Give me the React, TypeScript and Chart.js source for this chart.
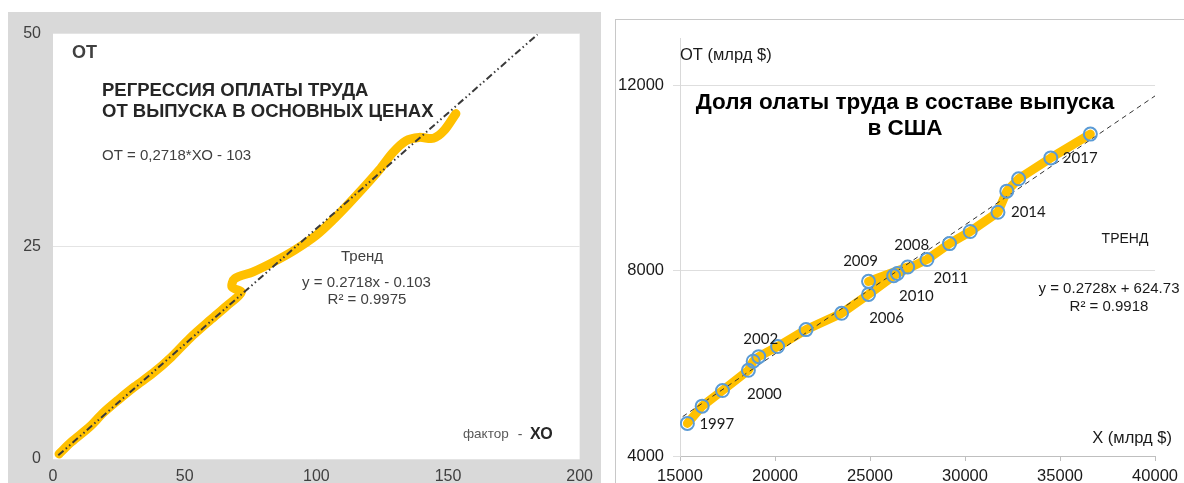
import React, { useEffect, useRef } from "react";
import { Chart, registerables } from "chart.js";

Chart.register(...registerables);

// ---------- Left chart data (ОТ vs ХО) ----------
const xoValues = [2.3, 7, 14, 19, 25, 31, 38, 45, 52, 60, 66, 71.5, 68, 69, 76, 84, 92, 100, 106, 112, 118, 124, 129, 134, 139, 144.5, 148.5, 153];
const otValues = [0.6, 2.0, 3.8, 5.4, 7.0, 8.5, 10.1, 12.0, 14.2, 16.4, 18.0, 19.6, 20.2, 21.2, 22.0, 23.2, 24.6, 26.3, 28.0, 29.9, 31.9, 34.0, 36.0, 37.4, 37.8, 37.7, 38.6, 40.6];
const leftTrendX = [2, 184];
const leftTrendY = [0.44, 49.9];
const leftXTicks = [0, 50, 100, 150, 200];
const leftYTicks = [0, 25, 50];

// ---------- Right chart data (USA) ----------
const years = [1997, 1998, 1999, 2000, 2001, 2002, 2003, 2004, 2005, 2006, 2007, 2008, 2009, 2010, 2011, 2012, 2013, 2014, 2015, 2016, 2017, 2018];
const outputX = [15389, 16167, 17237, 18599, 18852, 19144, 20136, 21634, 23502, 24922, 26245, 26984, 24922, 26440, 27996, 29183, 30272, 31732, 32198, 32821, 34514, 36595];
const laborY = [4703, 5076, 5413, 5849, 6046, 6144, 6362, 6728, 7079, 7487, 7888, 8077, 7768, 7937, 8239, 8583, 8844, 9258, 9715, 9982, 10432, 10946];
const rightTrendX = [15140, 40000];
const rightTrendY = [4850, 11770];
const labelledYears = [1997, 2000, 2002, 2006, 2008, 2009, 2010, 2011, 2014, 2017];
const rightXTicks = [15000, 20000, 25000, 30000, 35000, 40000];
const rightYTicks = [4000, 8000, 12000];

// label placement (offset from the point, px)
const yearLabelPlacement: Record<number, [number, number, CanvasTextAlign]> = {
  1997: [12, 1, "left"],
  2000: [16, 24, "center"],
  2002: [2, -17, "center"],
  2006: [18, 24, "center"],
  2008: [4, -22, "center"],
  2009: [-8, -20, "center"],
  2010: [19, 23, "center"],
  2011: [24, 19, "center"],
  2014: [13, 0, "left"],
  2017: [12, 0, "left"],
};

const ARIAL = "'Liberation Sans', Arial, sans-serif";

const whitePlot = {
  id: "whitePlot",
  beforeDraw(chart: any) {
    const { ctx, chartArea } = chart;
    ctx.save();
    ctx.fillStyle = "#ffffff";
    ctx.fillRect(chartArea.left, chartArea.top, chartArea.right - chartArea.left, chartArea.bottom - chartArea.top);
    ctx.restore();
  },
};

const yearLabels = {
  id: "yearLabels",
  afterDatasetsDraw(chart: any) {
    const meta = chart.getDatasetMeta(0);
    const ctx = chart.ctx;
    ctx.save();
    ctx.font = "15px Lato, 'Open Sans', sans-serif";
    ctx.fillStyle = "#1a1a1a";
    ctx.textBaseline = "middle";
    years.forEach((yr, i) => {
      if (!labelledYears.includes(yr)) return;
      const el = meta.data[i];
      const [dx, dy, align] = yearLabelPlacement[yr];
      ctx.textAlign = align;
      ctx.fillText(String(yr), el.x + dx, el.y + dy);
    });
    ctx.restore();
  },
};

type LabelProps = {
  x: number;
  y: number;
  text: React.ReactNode;
  align?: "left" | "center" | "right";
  size: number;
  bold?: boolean;
  color?: string;
  family?: string;
};

function Label({ x, y, text, align = "left", size, bold, color = "#262626", family = ARIAL }: LabelProps) {
  const tx = align === "left" ? "0" : align === "center" ? "-50%" : "-100%";
  return (
    <div
      style={{
        position: "absolute",
        left: x,
        top: y,
        transform: `translate(${tx}, -50%)`,
        whiteSpace: "nowrap",
        lineHeight: 1,
        fontSize: size,
        fontWeight: bold ? 700 : 400,
        color,
        fontFamily: family,
        textAlign: align,
      }}
    >
      {text}
    </div>
  );
}

function LeftChart() {
  const ref = useRef<HTMLCanvasElement>(null);
  useEffect(() => {
    const chart = new Chart(ref.current as HTMLCanvasElement, {
      type: "scatter",
      data: {
        datasets: [
          {
            label: "Тренд",
            data: leftTrendX.map((x, i) => ({ x, y: leftTrendY[i] })),
            showLine: true,
            borderColor: "#3a3a3a",
            borderWidth: 2,
            borderDash: [7, 3, 1.5, 3, 1.5, 3],
            pointRadius: 0,
            fill: false,
          },
          {
            label: "ОТ",
            data: xoValues.map((x, i) => ({ x, y: otValues[i] })),
            showLine: true,
            borderColor: "#FFC000",
            borderWidth: 9,
            tension: 0.3,
            pointRadius: 0,
            borderCapStyle: "round",
            borderJoinStyle: "round",
            fill: false,
          },
        ],
      },
      options: {
        animation: false,
        responsive: true,
        maintainAspectRatio: false,
        layout: { padding: { left: 0, top: 18, right: 18, bottom: 0 } },
        plugins: { legend: { display: false }, tooltip: { enabled: false } },
        scales: {
          x: {
            type: "linear",
            min: 0,
            max: 200,
            afterBuildTicks: (s: any) => {
              s.ticks = leftXTicks.map((v) => ({ value: v }));
            },
            ticks: { color: "#404040", font: { family: ARIAL, size: 16 }, padding: 8, maxRotation: 0, callback: (v: any) => `${v}` },
            grid: { display: false, drawTicks: false },
            border: { display: false },
            afterFit: (s: any) => {
              s.height = 24;
            },
          },
          y: {
            type: "linear",
            min: 0,
            max: 50,
            afterBuildTicks: (s: any) => {
              s.ticks = leftYTicks.map((v) => ({ value: v }));
            },
            ticks: { color: "#404040", font: { family: ARIAL, size: 16 }, padding: 12, callback: (v: any) => `${v}` },
            grid: { color: "#e4e4e4", drawTicks: false },
            border: { display: false },
            afterFit: (s: any) => {
              s.width = 45;
            },
          },
        },
      } as any,
      plugins: [whitePlot],
    });
    return () => chart.destroy();
  }, []);
  return (
    <div style={{ position: "absolute", left: 8, top: 12, width: 593, height: 471, background: "#d9d9d9" }}>
      <canvas ref={ref} />
    </div>
  );
}

function RightChart() {
  const ref = useRef<HTMLCanvasElement>(null);
  useEffect(() => {
    const chart = new Chart(ref.current as HTMLCanvasElement, {
      type: "scatter",
      data: {
        datasets: [
          {
            label: "точки",
            data: outputX.map((x, i) => ({ x, y: laborY[i] })),
            showLine: false,
            pointRadius: 6.5,
            pointBorderWidth: 2,
            pointBorderColor: "#5B9BD5",
            pointBackgroundColor: "rgba(0,0,0,0)",
          },
          {
            label: "ТРЕНД",
            data: rightTrendX.map((x, i) => ({ x, y: rightTrendY[i] })),
            showLine: true,
            borderColor: "#333333",
            borderWidth: 1,
            borderDash: [5, 4],
            pointRadius: 0,
            fill: false,
          },
          {
            label: "ОТ",
            data: outputX.map((x, i) => ({ x, y: laborY[i] })),
            showLine: true,
            borderColor: "#FFC000",
            borderWidth: 9,
            tension: 0,
            pointRadius: 0,
            borderCapStyle: "round",
            borderJoinStyle: "round",
            fill: false,
          },
        ],
      },
      options: {
        animation: false,
        responsive: true,
        maintainAspectRatio: false,
        layout: { padding: { left: 0, top: 8.5, right: 25, bottom: 0 } },
        plugins: { legend: { display: false }, tooltip: { enabled: false } },
        scales: {
          x: {
            type: "linear",
            min: 15000,
            max: 40000,
            afterBuildTicks: (s: any) => {
              s.ticks = rightXTicks.map((v) => ({ value: v }));
            },
            ticks: { color: "#1a1a1a", font: { family: ARIAL, size: 16.5 }, padding: 6, maxRotation: 0, callback: (v: any) => `${v}` },
            grid: { drawOnChartArea: false, drawTicks: true, tickLength: 5, color: "#bfbfbf" },
            border: { color: "#bfbfbf" },
            afterFit: (s: any) => {
              s.height = 27;
            },
          },
          y: {
            type: "linear",
            min: 4000,
            max: 13000,
            afterBuildTicks: (s: any) => {
              s.ticks = rightYTicks.map((v) => ({ value: v }));
            },
            ticks: { color: "#1a1a1a", font: { family: ARIAL, size: 16.5 }, padding: 9, callback: (v: any) => `${v}` },
            grid: { color: "#dedede", tickLength: 7 },
            border: { color: "#d9d9d9" },
            afterFit: (s: any) => {
              s.width = 64;
            },
          },
        },
      } as any,
      plugins: [yearLabels],
    });
    return () => chart.destroy();
  }, []);
  return (
    <div
      style={{
        position: "absolute",
        left: 615,
        top: 19,
        width: 569,
        height: 464,
        boxSizing: "border-box",
        borderTop: "1px solid #c8c8c8",
        borderLeft: "1px solid #c8c8c8",
        background: "#fff",
      }}
    >
      <div style={{ position: "absolute", left: 0, top: 0, width: 568, height: 463 }}>
        <canvas ref={ref} />
      </div>
    </div>
  );
}

export default function App() {
  useEffect(() => {
    document.body.style.margin = "0";
  }, []);
  return (
    <div style={{ position: "fixed", left: 0, top: 0, width: 1184, height: 483, background: "#fff", overflow: "hidden" }}>
      <LeftChart />
      <RightChart />

      {/* left chart texts */}
      <Label x={72} y={52} text="ОТ" size={18} bold color="#404040" />
      <Label x={102} y={90} text="РЕГРЕССИЯ ОПЛАТЫ ТРУДА" size={18.5} bold color="#262626" />
      <Label x={102} y={111} text="ОТ ВЫПУСКА В ОСНОВНЫХ ЦЕНАХ" size={18.5} bold color="#262626" />
      <Label x={102} y={154} text="ОТ = 0,2718*ХО - 103" size={15} color="#404040" />
      <Label x={362} y={255} text="Тренд" size={15} align="center" color="#404040" />
      <Label x={366.5} y={281} text="y = 0.2718x - 0.103" size={15} align="center" color="#404040" />
      <Label x={367} y={298} text="R² = 0.9975" size={15} align="center" color="#404040" />
      <Label x={463} y={434} text="фактор" size={13.5} color="#595959" />
      <Label x={520} y={434} text="-" size={14} align="center" color="#595959" />
      <Label x={530} y={434} text="ХО" size={16} bold color="#262626" />

      {/* right chart texts */}
      <Label x={680} y={54} text="ОТ (млрд $)" size={16.5} color="#1a1a1a" />
      <Label x={905} y={102} text="Доля олаты труда в составе выпуска" size={22.5} bold align="center" color="#000" />
      <Label x={905} y={128} text="в США" size={22.5} bold align="center" color="#000" />
      <Label x={1125} y={238} text="ТРЕНД" size={14} align="center" color="#1a1a1a" />
      <Label x={1109} y={287} text="y = 0.2728x  + 624.73" size={15} align="center" color="#1a1a1a" />
      <Label x={1109} y={305} text="R² = 0.9918" size={15} align="center" color="#1a1a1a" />
      <Label x={1172} y={437} text="X (млрд $)" size={16.5} align="right" color="#1a1a1a" />
    </div>
  );
}
